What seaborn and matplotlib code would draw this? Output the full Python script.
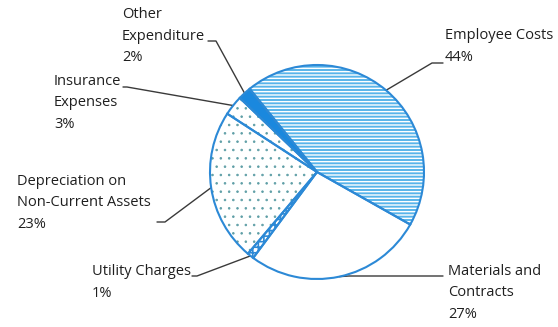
import matplotlib
matplotlib.use("Agg")
import matplotlib.pyplot as plt
import seaborn as sns
import numpy as np
from matplotlib.patches import Wedge

# Expenditure breakdown (share of total, %)
categories = [
    "Employee Costs",
    "Materials and\nContracts",
    "Utility Charges",
    "Depreciation on\nNon-Current Assets",
    "Insurance\nExpenses",
    "Other\nExpenditure",
]
shares = [44, 27, 1, 23, 3, 2]

sns.set_theme(style="white")
plt.rcParams["font.family"] = ["Open Sans", "DejaVu Sans"]

W, H = 558, 327
fig = plt.figure(figsize=(W / 100, H / 100), dpi=100)
ax = fig.add_axes([0, 0, 1, 1])


def Y(y):
    # layout is written top-down in pixels
    return H - y


edge_blue = "#2c89d6"
fills = ["#58b4ea", "white", "white", "white", "white", "#1a88de"]
hatches = ["-----", None, "+++", "..", "..", None]
hatch_colors = ["white", None, edge_blue, "#5e9ea6", "#5e9ea6", None]
hatch_widths = [1.0, 1.0, 1.2, 0.6, 0.6, 1.0]

cx, cy, R = 317, 172, 107
wedges, _ = ax.pie(
    shares,
    startangle=129,
    counterclock=False,
    center=(cx, Y(cy)),
    radius=R,
    colors=fills,
    wedgeprops=dict(edgecolor="none", linewidth=0),
)

# hatching and outlines drawn on top of each wedge
for w, hatch, hc, hw in zip(wedges, hatches, hatch_colors, hatch_widths):
    if hatch:
        plt.rcParams["hatch.linewidth"] = hw
        hp = Wedge(w.center, w.r, w.theta1, w.theta2, facecolor="none",
                   edgecolor=hc, hatch=hatch, linewidth=0, zorder=3)
        if hasattr(hp, "set_hatch_linewidth"):
            hp.set_hatch_linewidth(hw)
        ax.add_patch(hp)
    ax.add_patch(Wedge(w.center, w.r, w.theta1, w.theta2, facecolor="none",
                       edgecolor=edge_blue, linewidth=1.5, zorder=4))

# label anchor (left x, vertical centre y) and leader elbow, in pixels
label_pos = [(445, 46.5), (448, 293), (92, 282.5), (17, 203), (54, 103), (122, 36)]
elbows = [[(443, 63), (432, 63)],
          [(443, 276), (349, 276)],
          [(192, 276), (197, 276)],
          [(157, 222), (165, 222)],
          [(123, 87), (127, 87)],
          [(208, 41), (216, 41)]]

for w, cat, val, (lx, ly), elbow in zip(wedges, categories, shares, label_pos, elbows):
    ax.text(lx, Y(ly), f"{cat}\n{val}%", ha="left", va="center", fontsize=10.5,
            color="#1f1f1f", linespacing=1.56, zorder=5)
    mid = np.deg2rad((w.theta1 + w.theta2) / 2)
    ex = w.center[0] + w.r * np.cos(mid)
    ey = w.center[1] + w.r * np.sin(mid)
    xs = [p[0] for p in elbow] + [ex]
    ys = [Y(p[1]) for p in elbow] + [ey]
    ax.plot(xs, ys, color="#3a3a3a", linewidth=1.0, zorder=2)

ax.set_xlim(0, W)
ax.set_ylim(0, H)
ax.set_aspect("auto")
ax.axis("off")
fig.savefig("out.png", dpi=100, facecolor="white")
